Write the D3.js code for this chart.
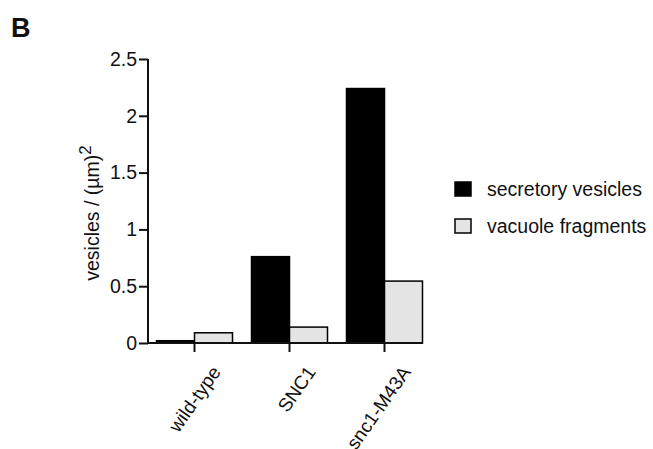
<!DOCTYPE html>
<html>
<head>
<meta charset="utf-8">
<script src="https://cdn.jsdelivr.net/npm/d3@7/dist/d3.min.js"></script>
<style>
  body { margin: 0; background: #fff; }
  text { font-family: "Liberation Sans", Arial, sans-serif; fill: #111; }
</style>
</head>
<body>
<svg id="chart" width="653" height="449"></svg>
<script>
var categories = ["wild-type", "SNC1", "snc1-M43A"];
var series = ["secretory vesicles", "vacuole fragments"];
var secretory = [0.02, 0.76, 2.24];
var vacuole = [0.09, 0.14, 0.545];
var yTicks = [0, 0.5, 1, 1.5, 2, 2.5];
var yTickLabels = ["0", "0.5", "1", "1.5", "2", "2.5"];

var svg = d3.select("#chart");
// note: "top" is reserved on window, so use plot* names
var plotLeft = 148, plotRight = 432, plotTop = 59, plotBottom = 343;
var fs = "19.5px";

var x = d3.scaleBand().domain(categories).range([plotLeft - 1, plotRight]);
var y = d3.scaleLinear().domain([0, 2.5]).range([plotBottom, plotTop]);
var color = d3.scaleOrdinal().domain(series).range(["#000", "#e4e4e4"]);
var barW = 38;

// panel letter
svg.append("text").attr("x", 11).attr("y", 37)
    .style("font-size", "27px").style("font-weight", "bold").text("B");

// bars
var groups = svg.selectAll(".grp").data(categories).enter().append("g").attr("class", "grp");
groups.append("rect")
    .attr("x", function (d) { return x(d) + x.bandwidth() / 2 - barW; })
    .attr("y", function (d, i) { return y(secretory[i]); })
    .attr("width", barW)
    .attr("height", function (d, i) { return y(0) - y(secretory[i]); })
    .attr("fill", color(series[0])).attr("stroke", "#000").attr("stroke-width", 1.5);
groups.append("rect")
    .attr("x", function (d) { return x(d) + x.bandwidth() / 2; })
    .attr("y", function (d, i) { return y(vacuole[i]); })
    .attr("width", barW)
    .attr("height", function (d, i) { return y(0) - y(vacuole[i]); })
    .attr("fill", color(series[1])).attr("stroke", "#000").attr("stroke-width", 1.5);

// y axis
var yAxis = svg.append("g").attr("transform", "translate(" + plotLeft + ",0)")
    .call(d3.axisLeft(y).tickValues(yTicks).tickSize(9).tickPadding(2).tickSizeOuter(0)
        .tickFormat(function (d, i) { return yTickLabels[i]; }));
yAxis.selectAll("path, line").attr("stroke", "#111").attr("stroke-width", 2);
yAxis.selectAll("text").style("font-size", fs).attr("fill", "#111");
yAxis.select(".domain").attr("d", "M0," + y(2.5) + "V" + y(0));

// x axis
var xAxis = svg.append("g").attr("transform", "translate(0," + plotBottom + ")")
    .call(d3.axisBottom(x).tickSize(9).tickSizeOuter(0));
xAxis.select(".domain").attr("d", "M" + plotLeft + ",0H423");
xAxis.selectAll("path, line").attr("stroke", "#111").attr("stroke-width", 2);
xAxis.selectAll("text")
    .style("font-size", "19px")
    .attr("text-anchor", "end")
    .attr("transform", "translate(27,29) rotate(-55)")
    .attr("dy", 0).attr("y", 0).attr("x", 0);

// y label
svg.append("text")
    .attr("transform", "translate(99,213) rotate(-90)")
    .attr("text-anchor", "middle")
    .style("font-size", fs)
    .html('vesicles / (µm)<tspan dy="-8" style="font-size:17px">2</tspan>');

// legend
var legend = svg.selectAll(".legend").data(series).enter().append("g")
    .attr("class", "legend")
    .attr("transform", function (d, i) { return "translate(455," + (182 + i * 37) + ")"; });
legend.append("rect").attr("width", 16).attr("height", 14)
    .attr("fill", function (d) { return color(d); })
    .attr("stroke", "#000").attr("stroke-width", 1.5);
legend.append("text").attr("x", 32).attr("y", 13.5)
    .style("font-size", fs).text(function (d) { return d; });
</script>
</body>
</html>
